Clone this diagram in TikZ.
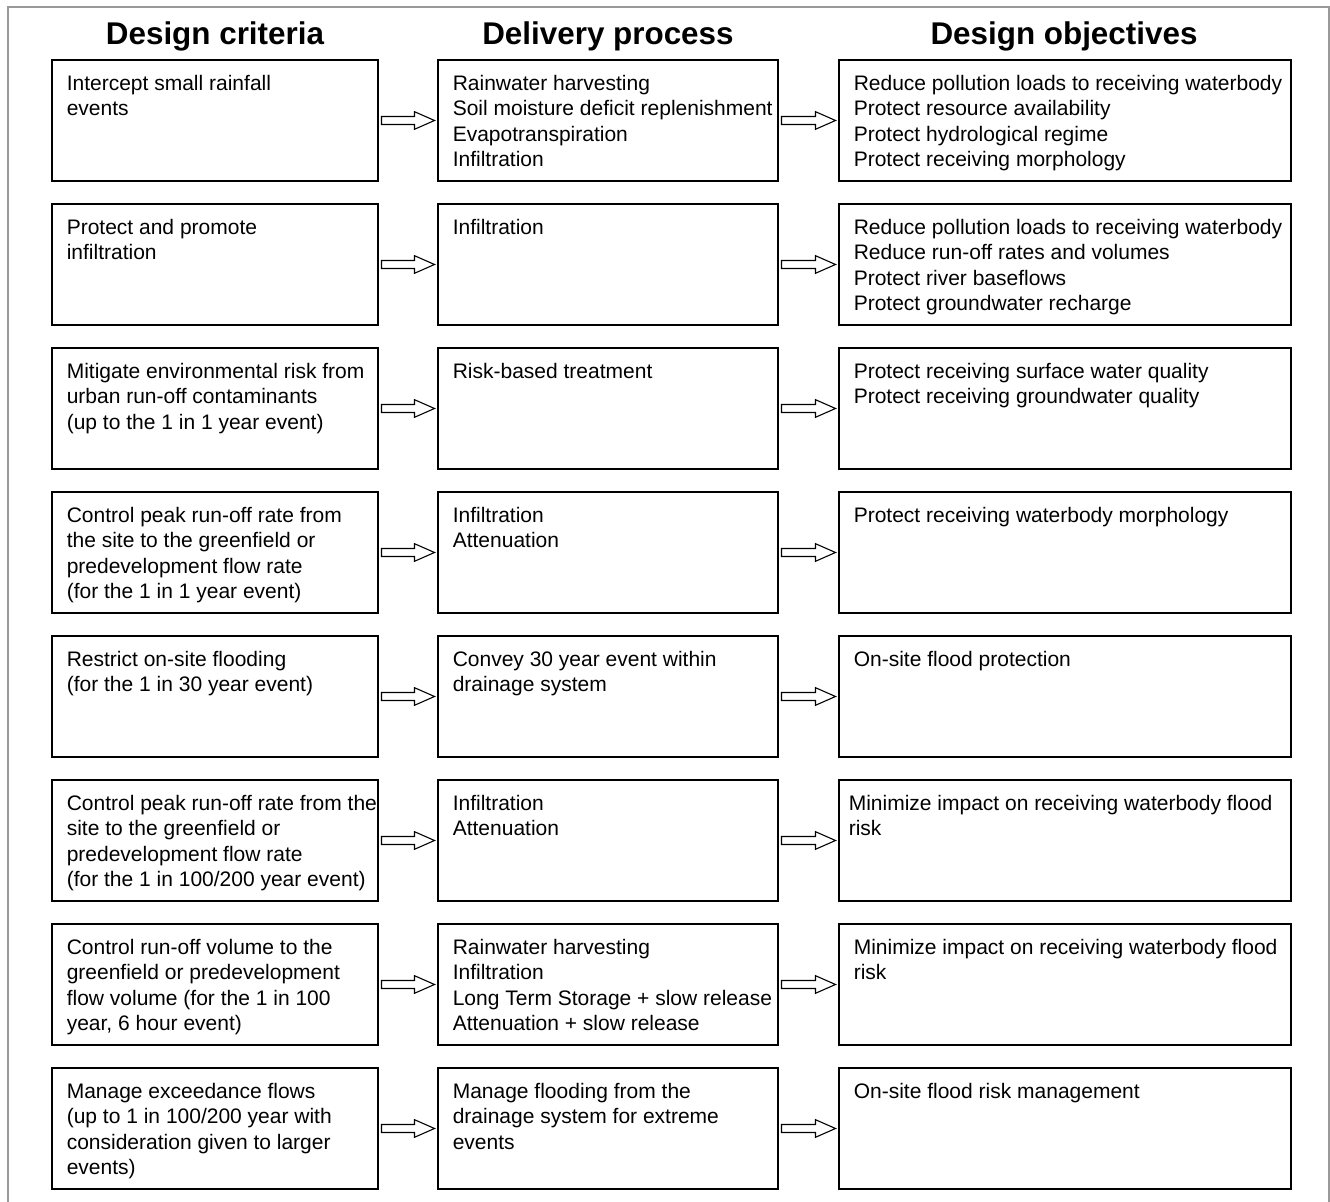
\documentclass[tikz,border=0pt]{standalone}
\usepackage{fontspec}
\setmainfont{Liberation Sans}
\usetikzlibrary{positioning,calc}

% hollow block arrow from the right side of #1 to the left side of #2
\newcommand{\flowarrow}[2]{%
  \draw[arr] ($(#1.east)+(1.75,-2)$) -- ($(#2.west)+(-11.75,-2)$) -- ($(#2.west)+(-11.75,-4.4)$)
    -- ($(#2.west)+(-1.75,0)$) -- ($(#2.west)+(-11.75,4.4)$) -- ($(#2.west)+(-11.75,2)$)
    -- ($(#1.east)+(1.75,2)$) -- cycle;}

\begin{document}
\begin{tikzpicture}[x=1pt,y=-1pt,
  hnode/.style={font=\fontsize{15.7}{18}\selectfont\bfseries, anchor=base, inner sep=0},
  xnode/.style={draw, line width=1.35pt, anchor=north west, minimum height=60.5pt, inner sep=0, outer sep=0},
  tnode/.style={font=\fontsize{10.5}{12.7}\selectfont, align=left, anchor=north west, inner sep=0},
  arr/.style={draw, line width=0.55pt, fill=white}]

\useasboundingbox (0,0) rectangle (665,601);
\draw[gray!80, line width=0.75pt] (4,601) -- (4,3.5) -- (664.5,3.5) -- (664.5,601);

% column heads
\node[hnode] (h1) at (107.5,22.5) {Design criteria};
\node[hnode] (h2) at (304,22.5) {Delivery process};
\node[hnode] (h3) at (532,22.5) {Design objectives};

% the three boxes of each row and the arrows between them
\foreach \i in {1,...,8} {
  \node[xnode, minimum width=163pt] (c\i) at (26,{30+72*(\i-1)}) {};
  \node[xnode, minimum width=170pt, right=30pt of c\i] (d\i) {};
  \node[xnode, minimum width=226pt, right=30.5pt of d\i] (o\i) {};
  \flowarrow{c\i}{d\i}
  \flowarrow{d\i}{o\i}
}

% row 1
\node[tnode] (c1t) at ($(c1.north west)+(7.2,7.4)$) {Intercept small rainfall\\events};
\node[tnode] (d1t) at ($(d1.north west)+(7.2,7.4)$) {Rainwater harvesting\\Soil moisture deficit replenishment\\Evapotranspiration\\Infiltration};
\node[tnode] (o1t) at ($(o1.north west)+(7.2,7.4)$) {Reduce pollution loads to receiving waterbody\\Protect resource availability\\Protect hydrological regime\\Protect receiving morphology};

% row 2
\node[tnode] (c2t) at ($(c2.north west)+(7.2,7.4)$) {Protect and promote\\infiltration};
\node[tnode] (d2t) at ($(d2.north west)+(7.2,7.4)$) {Infiltration};
\node[tnode] (o2t) at ($(o2.north west)+(7.2,7.4)$) {Reduce pollution loads to receiving waterbody\\Reduce run-off rates and volumes\\Protect river baseflows\\Protect groundwater recharge};

% row 3
\node[tnode] (c3t) at ($(c3.north west)+(7.2,7.4)$) {Mitigate environmental risk from\\urban run-off contaminants\\(up to the 1 in 1 year event)};
\node[tnode] (d3t) at ($(d3.north west)+(7.2,7.4)$) {Risk-based treatment};
\node[tnode] (o3t) at ($(o3.north west)+(7.2,7.4)$) {Protect receiving surface water quality\\Protect receiving groundwater quality};

% row 4
\node[tnode] (c4t) at ($(c4.north west)+(7.2,7.4)$) {Control peak run-off rate from\\the site to the greenfield or\\predevelopment flow rate\\(for the 1 in 1 year event)};
\node[tnode] (d4t) at ($(d4.north west)+(7.2,7.4)$) {Infiltration\\Attenuation};
\node[tnode] (o4t) at ($(o4.north west)+(7.2,7.4)$) {Protect receiving waterbody morphology};

% row 5
\node[tnode] (c5t) at ($(c5.north west)+(7.2,7.4)$) {Restrict on-site flooding\\(for the 1 in 30 year event)};
\node[tnode] (d5t) at ($(d5.north west)+(7.2,7.4)$) {Convey 30 year event within\\drainage system};
\node[tnode] (o5t) at ($(o5.north west)+(7.2,7.4)$) {On-site flood protection};

% row 6
\node[tnode] (c6t) at ($(c6.north west)+(7.2,7.4)$) {Control peak run-off rate from the\\site to the greenfield or\\predevelopment flow rate\\(for the 1 in 100/200 year event)};
\node[tnode] (d6t) at ($(d6.north west)+(7.2,7.4)$) {Infiltration\\Attenuation};
\node[tnode] (o6t) at ($(o6.north west)+(4.7,7.4)$) {Minimize impact on receiving waterbody flood\\risk};

% row 7
\node[tnode] (c7t) at ($(c7.north west)+(7.2,7.4)$) {Control run-off volume to the\\greenfield or predevelopment\\flow volume (for the 1 in 100\\year, 6 hour event)};
\node[tnode] (d7t) at ($(d7.north west)+(7.2,7.4)$) {Rainwater harvesting\\Infiltration\\Long Term Storage + slow release\\Attenuation + slow release};
\node[tnode] (o7t) at ($(o7.north west)+(7.2,7.4)$) {Minimize impact on receiving waterbody flood\\risk};

% row 8
\node[tnode] (c8t) at ($(c8.north west)+(7.2,7.4)$) {Manage exceedance flows\\(up to 1 in 100/200 year with\\consideration given to larger\\events)};
\node[tnode] (d8t) at ($(d8.north west)+(7.2,7.4)$) {Manage flooding from the\\drainage system for extreme\\events};
\node[tnode] (o8t) at ($(o8.north west)+(7.2,7.4)$) {On-site flood risk management};
\end{tikzpicture}
\end{document}
